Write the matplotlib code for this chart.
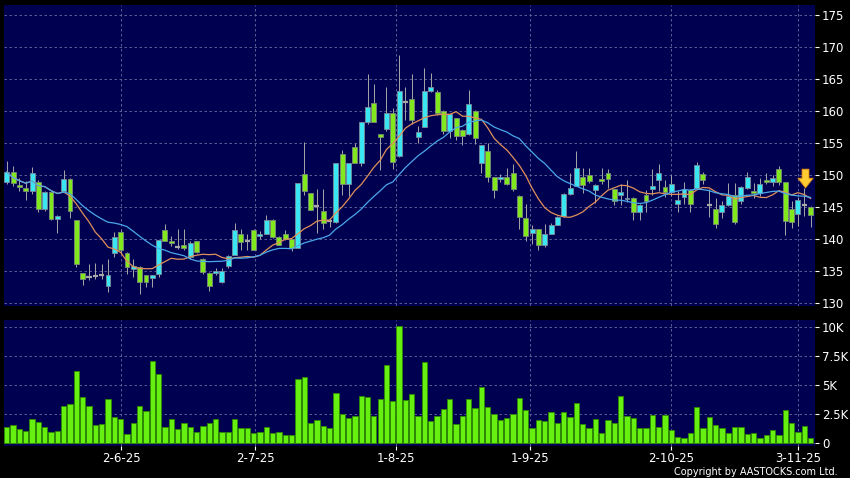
import numpy as np
import pandas as pd
import matplotlib
matplotlib.use("Agg")
import matplotlib.pyplot as plt

# daily OHLC (one entry per trading day)
opens = [148.9, 150.5, 148.5, 148.1, 147.6, 148.9, 144.8, 147.4, 143.2, 147.6,
         149.5, 143.0, 134.7, 134.2, 134.3, 134.4, 132.7, 137.9, 141.2, 137.9,
         135.4, 135.7, 134.4, 134.0, 134.6, 141.5, 139.8, 138.8, 139.1, 137.2,
         139.7, 137.0, 134.8, 134.7, 133.4, 135.8, 137.6, 140.9, 139.7, 141.5,
         140.5, 140.9, 143.1, 140.4, 140.8, 140.0, 138.7, 150.2, 147.2, 145.2,
         144.5, 142.9, 142.7, 153.3, 148.7, 154.5, 151.9, 158.3, 161.3, 156.5,
         157.3, 159.8, 153.0, 161.4, 161.9, 156.0, 157.6, 163.2, 163.0, 160.0,
         156.9, 158.9, 157.1, 156.5, 160.0, 151.9, 153.8, 149.7, 149.5, 149.7,
         150.3, 146.8, 143.4, 141.0, 141.6, 139.1, 140.9, 142.3, 143.6, 147.1,
         148.4, 149.7, 150.0, 147.7, 149.5, 150.4, 147.8, 146.9, 146.3, 146.5,
         144.3, 146.9, 147.9, 149.3, 148.2, 147.4, 145.6, 146.6, 147.7, 148.1,
         150.2, 145.3, 144.7, 144.3, 145.4, 146.9, 146.0, 148.1, 147.6, 147.2,
         149.2, 149.0, 151.0, 148.9, 144.8, 143.9, 145.3, 145.0]
highs = [152.2, 151.4, 149.6, 149.1, 151.3, 149.2, 147.6, 147.6, 143.8, 150.8,
         149.6, 143.0, 134.8, 136.1, 136.3, 136.1, 137.0, 141.2, 141.4, 138.0,
         137.0, 135.8, 134.5, 134.5, 139.9, 142.4, 140.5, 141.7, 141.7, 139.7,
         139.8, 137.1, 134.9, 135.5, 135.5, 137.6, 142.5, 141.7, 140.9, 141.7,
         141.3, 143.8, 143.2, 140.5, 141.5, 140.1, 148.8, 155.2, 147.3, 147.9,
         147.9, 143.3, 152.0, 154.0, 152.0, 155.0, 158.3, 165.8, 164.3, 156.5,
         163.8, 160.5, 168.8, 163.8, 165.8, 157.7, 166.8, 166.0, 163.4, 160.2,
         159.6, 159.0, 157.2, 163.4, 160.2, 154.7, 155.1, 149.8, 150.2, 151.2,
         151.8, 146.9, 145.5, 142.3, 141.7, 142.4, 142.5, 143.6, 147.2, 150.4,
         153.8, 151.2, 151.2, 148.7, 151.2, 151.0, 147.9, 148.7, 149.2, 146.6,
         145.5, 147.7, 151.0, 151.8, 149.3, 150.0, 147.6, 149.0, 147.8, 152.1,
         150.6, 147.8, 146.5, 146.0, 148.8, 148.8, 148.4, 150.5, 148.8, 149.6,
         150.3, 150.0, 151.4, 149.0, 146.0, 146.6, 148.0, 145.2]
lows = [148.6, 148.4, 147.5, 146.1, 147.1, 144.3, 144.5, 143.0, 141.0, 147.6,
        143.4, 135.7, 132.9, 133.6, 133.8, 133.8, 131.8, 137.3, 137.9, 134.6,
        134.1, 131.5, 132.6, 132.6, 134.2, 139.7, 139.0, 138.5, 138.4, 137.0,
        137.8, 134.6, 131.9, 134.4, 133.2, 135.5, 137.5, 138.3, 138.3, 138.3,
        140.0, 140.9, 140.2, 139.2, 139.9, 138.2, 138.6, 146.9, 144.6, 141.0,
        141.7, 142.0, 142.6, 146.9, 146.7, 151.9, 151.5, 158.0, 158.3, 150.8,
        157.0, 151.0, 152.8, 158.6, 158.0, 155.0, 157.5, 163.0, 159.5, 156.5,
        155.8, 155.5, 154.7, 156.3, 154.9, 150.4, 149.0, 146.4, 148.9, 148.5,
        147.5, 141.6, 139.8, 139.3, 138.3, 138.8, 140.9, 142.2, 143.5, 146.9,
        148.3, 147.3, 148.8, 145.7, 148.6, 148.0, 145.3, 145.4, 145.8, 143.0,
        143.0, 144.3, 147.0, 147.6, 146.6, 146.7, 144.2, 145.6, 144.3, 147.9,
        148.6, 143.5, 141.8, 143.4, 145.2, 142.4, 145.6, 147.8, 146.5, 146.7,
        148.6, 148.3, 148.5, 140.7, 141.8, 142.1, 143.6, 142.0]
closes = [150.5, 148.8, 148.2, 147.6, 150.4, 144.8, 147.4, 143.2, 143.6, 149.5,
          144.4, 136.1, 133.8, 134.2, 134.3, 134.4, 134.4, 140.3, 138.3, 135.7,
          135.8, 133.4, 133.4, 134.4, 139.9, 139.8, 139.5, 138.8, 138.6, 139.5,
          138.0, 134.9, 132.8, 135.0, 135.0, 137.4, 141.4, 139.6, 139.7, 138.4,
          140.9, 143.1, 140.4, 139.2, 140.0, 138.6, 148.8, 147.6, 144.6, 145.2,
          142.6, 142.9, 152.0, 148.6, 152.0, 151.9, 158.3, 160.7, 158.3, 156.0,
          159.8, 152.1, 163.2, 161.4, 158.6, 156.7, 163.2, 163.8, 159.8, 156.9,
          159.6, 156.2, 156.2, 161.2, 155.9, 154.7, 149.8, 147.7, 149.8, 148.7,
          147.8, 143.5, 140.6, 141.6, 139.1, 140.9, 142.3, 143.5, 147.1, 148.1,
          151.2, 148.5, 149.1, 148.5, 149.1, 149.5, 146.0, 147.4, 146.5, 144.3,
          145.4, 146.0, 148.4, 150.3, 147.4, 148.6, 146.1, 147.9, 145.5, 151.6,
          149.3, 145.3, 142.4, 145.4, 146.8, 142.7, 148.2, 149.8, 147.2, 148.6,
          148.9, 149.6, 148.9, 142.9, 142.7, 146.1, 145.3, 143.8]
# volume in thousands
volumes = [1.37, 1.57, 1.23, 1.09, 2.09, 1.80, 1.37, 0.97, 1.03, 3.20,
           3.37, 6.20, 3.97, 3.20, 1.60, 1.63, 3.83, 2.26, 2.11, 0.83,
           1.74, 3.20, 2.80, 7.09, 5.97, 1.40, 2.09, 1.23, 1.74, 1.40,
           0.94, 1.46, 1.74, 2.06, 0.94, 0.94, 2.06, 1.34, 1.34, 0.86,
           1.00, 1.43, 0.89, 1.00, 0.71, 0.71, 5.57, 5.74, 1.77, 1.97,
           1.46, 1.31, 4.37, 2.49, 2.20, 2.37, 4.06, 3.97, 2.34, 3.83,
           6.74, 3.66, 10.14, 3.71, 4.23, 2.34, 6.97, 1.89, 2.34, 2.94,
           3.86, 1.63, 2.34, 3.86, 3.03, 4.86, 3.11, 2.57, 1.97, 2.17,
           2.51, 3.89, 2.86, 1.29, 1.97, 1.94, 2.66, 1.77, 2.73, 2.24,
           3.44, 1.65, 1.36, 2.07, 0.85, 2.05, 1.76, 4.09, 2.33, 2.22,
           1.31, 1.36, 2.44, 1.42, 2.41, 1.11, 0.51, 0.48, 0.91, 3.15,
           1.28, 2.24, 1.62, 1.36, 0.91, 1.42, 1.42, 0.77, 0.85, 0.48,
           0.68, 1.11, 0.68, 2.90, 1.79, 0.97, 1.51, 0.43]

date_ticks = [18.1, 39.3, 61.5, 82.7, 104.9, 125.0]
date_labels = ["2-6-25", "2-7-25", "1-8-25", "1-9-25", "2-10-25", "3-11-25"]
price_ticks = [130, 135, 140, 145, 150, 155, 160, 165, 170, 175]
vol_ticks = [0, 2.5, 5, 7.5, 10]
vol_labels = ["0", "2.5K", "5K", "7.5K", "10K"]

BG = "#000050"
GRID = "#6a6aa0"
UP = "#3ae6f2"
DOWN = "#80e81c"
WICK = "#a8a8a8"

o = np.array(opens)
h = np.array(highs)
l = np.array(lows)
c = np.array(closes)
x = np.arange(len(c))
ma10 = pd.Series(c).rolling(10, min_periods=1).mean()
ma20 = pd.Series(c).rolling(20, min_periods=1).mean()

fig = plt.figure(figsize=(8.5, 4.78), dpi=100, facecolor="black")
ax1 = fig.add_axes([4 / 850, 1 - 306 / 478, 811 / 850, 301 / 478])
ax2 = fig.add_axes([4 / 850, 1 - 446 / 478, 811 / 850, 126 / 478])

for ax in (ax1, ax2):
    ax.set_facecolor(BG)
    for s in ax.spines.values():
        s.set_visible(False)
    ax.set_xlim(-0.43, 127.7)
    ax.yaxis.tick_right()
    ax.tick_params(axis="y", colors="white", labelsize=8.5, length=3, pad=2)
    ax.set_xticks(date_ticks)
    ax.grid(True, color=GRID, linestyle=(0, (3, 3)), linewidth=0.6)
    ax.set_axisbelow(True)

# candles
ax1.vlines(x, l, h, color=WICK, linewidth=0.7, zorder=2)
up = c > o
dn = c < o
flat = c == o
ax1.bar(x[up], (c - o)[up], bottom=o[up], width=0.78, color=UP,
        edgecolor="#7a8a9a", linewidth=0.6, zorder=3)
ax1.bar(x[dn], (o - c)[dn], bottom=c[dn], width=0.78, color=DOWN,
        edgecolor="#7a8a7a", linewidth=0.6, zorder=3)
ax1.hlines(c[flat], x[flat] - 0.4, x[flat] + 0.4, color=WICK, linewidth=1.6, zorder=3)

ax1.plot(x, ma10, color="#e0905a", linewidth=0.9, zorder=4)
ax1.plot(x, ma20, color="#4aa8ea", linewidth=0.9, zorder=4)

ax1.annotate("", xy=(126.2, 147.6), xytext=(126.2, 151.4),
             arrowprops=dict(arrowstyle="simple,head_width=1.1,head_length=0.7,tail_width=0.5",
                             fc="#ffcc33", ec="#e08a10", lw=0.6), zorder=5)

ax1.set_ylim(129.6, 176.6)
ax1.set_yticks(price_ticks)
ax1.tick_params(axis="x", length=0, labelbottom=False)

# volume
ax2.bar(x, volumes, width=0.84, color="#66f010", edgecolor="#2f8a00",
        linewidth=0.6, zorder=3)
ax2.set_ylim(-0.23, 10.63)
ax2.set_yticks(vol_ticks)
ax2.set_yticklabels(vol_labels)
ax2.set_xticklabels(date_labels)
ax2.tick_params(axis="x", colors="white", labelsize=8.5, length=3, direction="out", pad=1)

fig.text(0.985, 0.002, "Copyright by AASTOCKS.com Ltd.", color="white",
         fontsize=7, ha="right", va="bottom")

fig.savefig("out.png", dpi=100, facecolor="black")
